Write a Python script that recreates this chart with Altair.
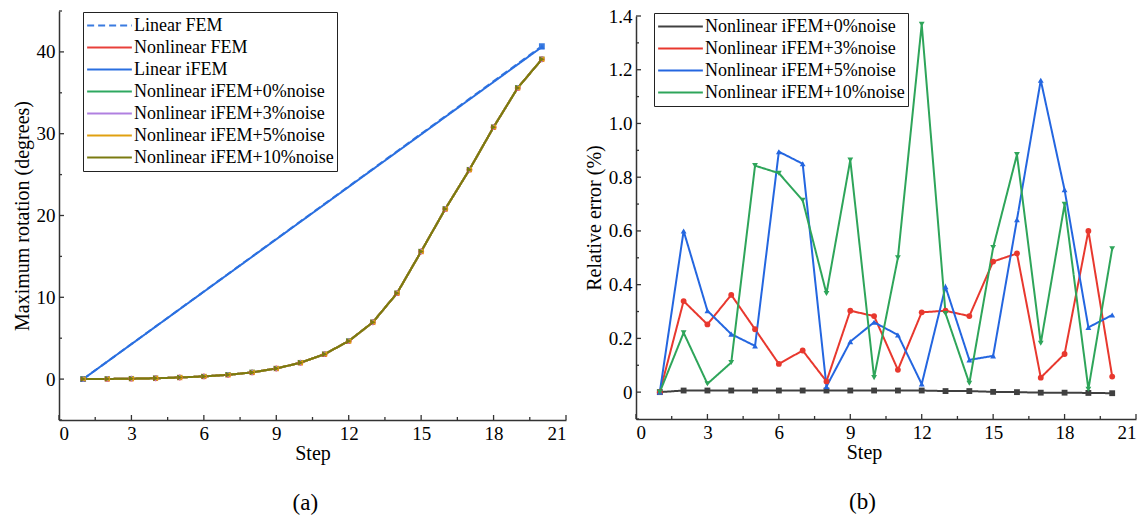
import altair as alt
import pandas as pd

FONT = "'Liberation Serif', 'Times New Roman', serif"

# ---------------- data (a) ----------------
steps = list(range(1, 21))
lin_steps = [1, 20]
linear_fem = [0.0, 40.7]
linear_ifem = [0.0, 40.6]
nonlinear_fem = [0.0, 0.02, 0.05, 0.1, 0.2, 0.33, 0.52, 0.82, 1.3, 2.0,
                 3.05, 4.65, 6.95, 10.5, 15.6, 20.8, 25.6, 30.8, 35.6, 39.1]
nl_ifem_0 = [0.0, 0.02, 0.05, 0.1, 0.2, 0.33, 0.52, 0.82, 1.3, 2.0,
             3.05, 4.65, 6.95, 10.5, 15.6, 20.8, 25.6, 30.8, 35.6, 39.1]
nl_ifem_3 = [0.0, 0.02, 0.05, 0.1, 0.2, 0.33, 0.52, 0.82, 1.3, 2.0,
             3.05, 4.65, 6.95, 10.5, 15.6, 20.8, 25.6, 30.8, 35.6, 39.1]
nl_ifem_5 = [0.0, 0.02, 0.05, 0.1, 0.2, 0.33, 0.52, 0.82, 1.3, 2.0,
             3.05, 4.65, 6.95, 10.5, 15.6, 20.8, 25.6, 30.8, 35.6, 39.1]
nl_ifem_10 = [0.0, 0.02, 0.05, 0.1, 0.2, 0.33, 0.52, 0.82, 1.3, 2.0,
              3.05, 4.65, 6.95, 10.5, 15.6, 20.8, 25.6, 30.8, 35.6, 39.1]

names_a = ["Linear FEM", "Nonlinear FEM", "Linear iFEM",
           "Nonlinear iFEM+0%noise", "Nonlinear iFEM+3%noise",
           "Nonlinear iFEM+5%noise", "Nonlinear iFEM+10%noise"]
colors_a = ["#3a7be0", "#e8403a", "#2a6fe0", "#2ea860", "#b080e0", "#e0a010", "#7a7a10"]
dashes_a = [[7, 4], [1, 0], [1, 0], [1, 0], [1, 0], [1, 0], [1, 0]]
shapes_a = ["square", "circle", "triangle-up", "triangle-down", "diamond",
            "triangle-left", "triangle-right"]

# ---------------- data (b) ----------------
err_0 = [0.0, 0.006, 0.006, 0.006, 0.006, 0.006, 0.006, 0.006, 0.006, 0.006,
         0.006, 0.006, 0.004, 0.004, 0.001, 0.0, -0.002, -0.002, -0.003, -0.004]
err_3 = [0.0, 0.339, 0.252, 0.362, 0.234, 0.105, 0.155, 0.04, 0.303, 0.283,
         0.083, 0.297, 0.303, 0.283, 0.486, 0.516, 0.054, 0.142, 0.600, 0.058]
err_5 = [0.0, 0.600, 0.303, 0.216, 0.172, 0.895, 0.850, 0.021, 0.188, 0.260,
         0.213, 0.030, 0.392, 0.120, 0.135, 0.642, 1.161, 0.753, 0.241, 0.287]
err_10 = [0.0, 0.221, 0.031, 0.110, 0.843, 0.815, 0.714, 0.367, 0.864, 0.054,
          0.500, 1.369, 0.293, 0.033, 0.538, 0.884, 0.182, 0.699, 0.011, 0.534]

names_b = ["Nonlinear iFEM+0%noise", "Nonlinear iFEM+3%noise",
           "Nonlinear iFEM+5%noise", "Nonlinear iFEM+10%noise"]
colors_b = ["#404040", "#e8382e", "#2466e0", "#2ea55a"]
dashes_b = [[1, 0], [1, 0], [1, 0], [1, 0]]
shapes_b = ["square", "circle", "triangle-up", "triangle-down"]

x_major = [0, 3, 6, 9, 12, 15, 18, 21]
x_minor = [1.5, 4.5, 7.5, 10.5, 13.5, 16.5, 19.5]
ya_major = [0, 10, 20, 30, 40]
ya_minor = [-5, 5, 15, 25, 35, 45]
yb_major = [0, 0.2, 0.4, 0.6, 0.8, 1.0, 1.2, 1.4]
yb_minor = [-0.1, 0.1, 0.3, 0.5, 0.7, 0.9, 1.1, 1.3]

# ---------------- frames ----------------
rows = []
series_a = [(names_a[0], lin_steps, linear_fem), (names_a[1], steps, nonlinear_fem),
            (names_a[2], lin_steps, linear_ifem), (names_a[3], steps, nl_ifem_0),
            (names_a[4], steps, nl_ifem_3), (names_a[5], steps, nl_ifem_5),
            (names_a[6], steps, nl_ifem_10)]
for nm, xs, ys in series_a:
    for s, v in zip(xs, ys):
        rows.append({"series": nm, "marker": nm, "step": s, "value": v})
df_a = pd.DataFrame(rows)

rows = []
for nm, ys in zip(names_b, [err_0, err_3, err_5, err_10]):
    for s, v in zip(steps, ys):
        rows.append({"series": nm, "marker": nm, "step": s, "value": v})
df_b = pd.DataFrame(rows)

W_A, H_A = 507, 409
W_B, H_B = 500, 408

DASH_EXPR = "datum.value == 'Linear FEM' ? [7, 4] : [1, 0]"


def legend(x, y):
    return alt.Legend(title=None, orient="none", legendX=x, legendY=y,
                      symbolType="stroke", symbolSize=2000, symbolStrokeWidth=2,
                      symbolDash={"expr": DASH_EXPR},
                      clipHeight=21, rowPadding=1, labelFont=FONT, labelFontSize=18,
                      labelColor="black", labelOffset=1, labelLimit=400,
                      strokeColor="#222", padding=3, fillColor="white")


def panel(df, names, colors, shapes, dashes, ydom, yrange_top, yaxis, ytitle, yfmt_expr,
          W, H, lx, ly, ymaj, ymin, caption, cap_off, cap_dx, xtitle_x):
    lg = legend(lx, ly)
    ax_common = dict(labelFont=FONT, labelFontSize=19, labelColor="black",
                     titleFont=FONT, titleFontSize=20, titleFontWeight="normal",
                     titleColor="black", domainColor="#333", domainWidth=1.5,
                     ticks=False, tickSize=0, grid=False)
    xax = dict(values=x_major, title="Step", labelPadding=4, titlePadding=0, **ax_common)
    if xtitle_x is not None:
        xax["titleX"] = xtitle_x
    xenc = alt.X("step:Q", scale=alt.Scale(domain=[0, 21], nice=False, zero=False),
                 axis=alt.Axis(**xax))
    yax = alt.Axis(values=yaxis, title=ytitle, labelPadding=4, titlePadding=4,
                   labelExpr=yfmt_expr, **ax_common)
    yenc = alt.Y("value:Q", scale=alt.Scale(domain=ydom, range=[H, yrange_top],
                                            nice=False, zero=False), axis=yax)
    base = alt.Chart(df)
    lines = base.mark_line(strokeWidth=2).encode(
        x=xenc, y=yenc,
        color=alt.Color("series:N", scale=alt.Scale(domain=names, range=colors),
                        legend=lg, sort=names),
        strokeDash=alt.StrokeDash("series:N", scale=alt.Scale(domain=names, range=dashes),
                                  legend=None, sort=names),
    )
    pts = base.mark_point(filled=True, size=34, opacity=1, strokeWidth=0).encode(
        x=xenc, y=yenc,
        color=alt.Color("marker:N", scale=alt.Scale(domain=names, range=colors), legend=None),
        shape=alt.Shape("marker:N", scale=alt.Scale(domain=names, range=shapes), legend=None),
    )
    xt_maj = pd.DataFrame({"step": x_major})
    xt_min = pd.DataFrame({"step": x_minor})
    yt_maj = pd.DataFrame({"value": ymaj})
    yt_min = pd.DataFrame({"value": ymin})
    rule = dict(color="#333", strokeWidth=1.3)
    t1 = alt.Chart(xt_maj).mark_rule(**rule).encode(x=xenc, y=alt.value(H), y2=alt.value(H - 5))
    t2 = alt.Chart(xt_min).mark_rule(**rule).encode(x=xenc, y=alt.value(H), y2=alt.value(H - 3))
    t3 = alt.Chart(yt_maj).mark_rule(**rule).encode(y=yenc, x=alt.value(0), x2=alt.value(5))
    t4 = alt.Chart(yt_min).mark_rule(**rule).encode(y=yenc, x=alt.value(0), x2=alt.value(3))
    return alt.layer(lines, pts, t1, t2, t3, t4).resolve_scale(
        color="independent", shape="independent"
    ).resolve_legend(color="independent", shape="independent").properties(
        width=W, height=H,
        title=alt.TitleParams(caption, orient="bottom", font=FONT, fontSize=23,
                              fontWeight="normal", color="black", offset=cap_off,
                              anchor="middle", frame="bounds", dx=cap_dx))


pa = panel(df_a, names_a, colors_a, shapes_a, dashes_a, [-5, 45], 0, ya_major,
           "Maximum rotation (degrees)", "datum.label", W_A, H_A, 24, 1,
           ya_major, ya_minor, "(a)", 29, 16, None)
pb = panel(df_b, names_b, colors_b, shapes_b, dashes_b, [-0.1, 1.4], 5, yb_major,
           "Relative error (%)", "datum.value == 0 ? '0' : format(datum.value, '.1f')",
           W_B, H_B, 18, 2, yb_major, yb_minor, "(b)", 29, 2, 228)

chart = alt.hconcat(pa, pb, spacing=17).resolve_scale(
    color="independent", strokeDash="independent", shape="independent",
    x="independent", y="independent"
).resolve_legend(color="independent", strokeDash="independent", shape="independent").properties(
    padding={"left": 12, "top": 7, "right": 0, "bottom": 0},
    background="white"
).configure_view(stroke=None)

chart.save("out.html", embed_options={"renderer": "svg", "actions": False})
